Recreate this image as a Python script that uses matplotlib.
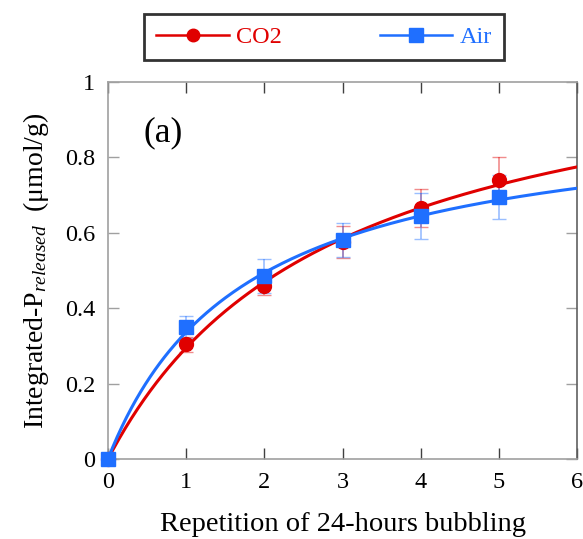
import numpy as np
import matplotlib
matplotlib.use("Agg")
import matplotlib.pyplot as plt
from matplotlib.lines import Line2D

plt.rcParams['font.family'] = ['Liberation Serif', 'DejaVu Serif']
plt.rcParams['mathtext.fontset'] = 'custom'
plt.rcParams['mathtext.rm'] = 'Liberation Serif'
plt.rcParams['mathtext.it'] = 'Liberation Serif:italic'

x = [0, 1, 2, 3, 4, 5]
co2 = [0.0, 0.305, 0.46, 0.575, 0.665, 0.74]
co2_err = [0.0, 0.02, 0.025, 0.042, 0.05, 0.06]
air = [0.0, 0.35, 0.485, 0.58, 0.645, 0.695]
air_err = [0.0, 0.03, 0.045, 0.045, 0.06, 0.058]
# fitted hyperbolic model parameters  y = a*x/(b+x)
co2_fit = (1.148, 2.89)
air_fit = (0.929, 1.76)

red = '#e00000'
blue = '#1f6fff'

fig = plt.figure(figsize=(5.83, 5.39), dpi=100)
ax = fig.add_axes([0.185, 0.148, 0.805, 0.70])

xs = np.linspace(0, 6, 300)
ax.plot(xs, co2_fit[0]*xs/(co2_fit[1]+xs), color=red, lw=2.2, zorder=3)
ax.plot(xs, air_fit[0]*xs/(air_fit[1]+xs), color=blue, lw=2.2, zorder=4)
ax.errorbar(x, co2, yerr=co2_err, fmt='none', ecolor=red, alpha=0.45, capsize=5, elinewidth=1.2, zorder=2)
ax.errorbar(x, air, yerr=air_err, fmt='none', ecolor=blue, alpha=0.45, capsize=5, elinewidth=1.2, zorder=2)
ax.plot(x, co2, 'o', color=red, ms=10, zorder=5, clip_on=False)
ax.plot(x, air, 's', color=blue, ms=10, zorder=6, clip_on=False)

ax.set_xlim(0, 6)
ax.set_ylim(0, 1)
ax.set_xticks(range(7))
ax.set_yticks([0, 0.2, 0.4, 0.6, 0.8, 1])
ax.set_yticklabels(['0', '0.2', '0.4', '0.6', '0.8', '1'])
for s in ax.spines.values():
    s.set_color('#a0a0a0')
    s.set_linewidth(1.2)
ax.spines['right'].set_color('#606060')
ax.tick_params(direction='in', length=8, width=1, colors='#404040', labelcolor='black',
               labelsize=17.5, top=True, right=True)
ax.tick_params(axis='x', pad=9)
ax.tick_params(axis='y', colors='#a0a0a0', labelcolor='black', pad=9)

ax.set_xlabel('Repetition of 24-hours bubbling', fontsize=20.5, labelpad=14)
ax.set_ylabel(r'Integrated-P$_{\mathit{released}}$  (μmol/g)', fontsize=20, labelpad=10)
ax.text(0.45, 0.865, '(a)', fontsize=25.5, ha='left', va='center', transform=ax.transData)

h1 = Line2D([], [], color=red, marker='o', ms=9, lw=1.8)
h2 = Line2D([], [], color=blue, marker='s', ms=10, lw=1.8)
leg = fig.legend([h1, h2], ['CO2', 'Air'], ncol=2, loc='center',
                 bbox_to_anchor=(0.556, 0.931), fontsize=17.5, frameon=True, fancybox=False,
                 edgecolor='black', handlelength=3.0, columnspacing=4.0, borderpad=0.5,
                 handletextpad=0.3)
leg.get_frame().set_linewidth(2)
for t, c in zip(leg.get_texts(), [red, blue]):
    t.set_color(c)

fig.savefig('out.png', dpi=100)
